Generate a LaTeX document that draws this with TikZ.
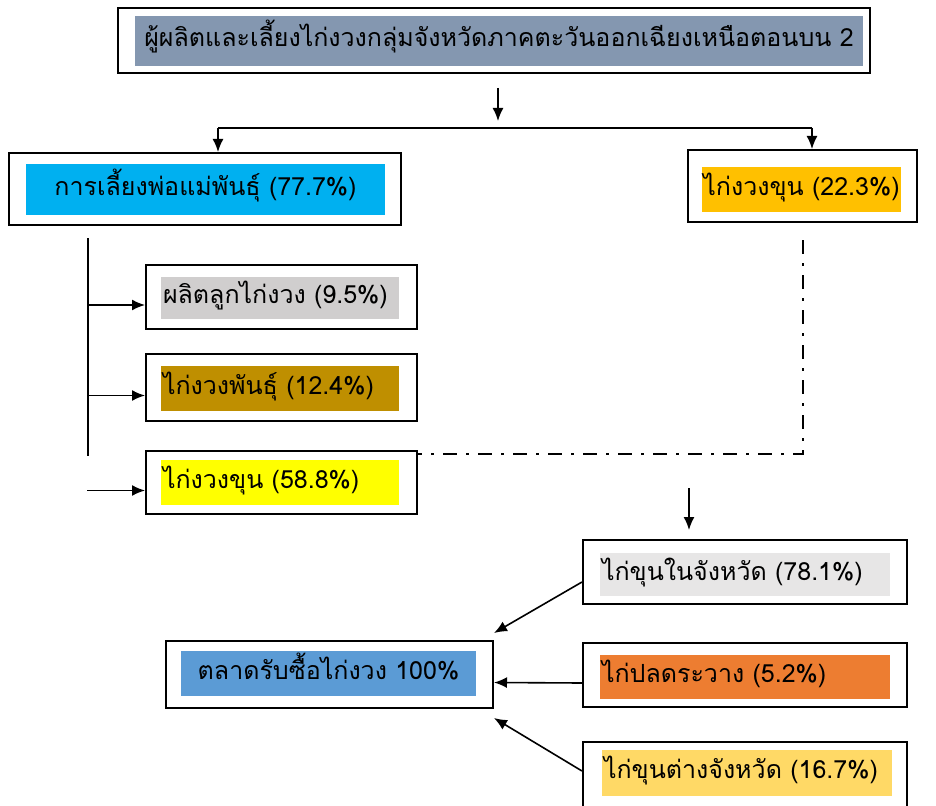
\documentclass[tikz,border=0pt]{standalone}
\usepackage{fontspec}
\newfontfamily\thaifont[Script=Thai]{Loma}
\usetikzlibrary{arrows.meta,calc}
\definecolor{cTop}{HTML}{8497B0}
\definecolor{cBreed}{HTML}{00B0F0}
\definecolor{cFat}{HTML}{FFC000}
\definecolor{cChick}{HTML}{D0CECE}
\definecolor{cStock}{HTML}{BF8F00}
\definecolor{cGrow}{HTML}{FFFF00}
\definecolor{cIn}{HTML}{E7E6E6}
\definecolor{cCull}{HTML}{ED7D31}
\definecolor{cOut}{HTML}{FFD966}
\definecolor{cMarket}{HTML}{5B9BD5}

\begin{document}
\begin{tikzpicture}[x=1pt,y=-1pt,
  box/.style={draw,line width=2pt,inner sep=0pt},
  hl/.style={inner xsep=2pt,inner ysep=0pt,text height=17pt,text depth=6pt,font=\thaifont\fontsize{25}{30}\selectfont},
  arr/.style={line width=1.6pt,-{Latex[length=13pt,width=11pt]}}]
\useasboundingbox (0,0) rectangle (936,805);
\node[box,minimum width=752pt,minimum height=65pt] (top) at (494,40.5) {};
\node[box,minimum width=392pt,minimum height=72pt] (breed) at (205,189) {};
\node[box,minimum width=229pt,minimum height=72pt] (fat) at (802.5,186) {};
\foreach \n/\y/\h in {chick/297/64, stock/387.5/67, grow/482.5/63} { \node[box,minimum width=271pt,minimum height=\h pt] (\n) at (281.5,\y) {}; };
\foreach \n/\y/\h in {inprov/572/64, cull/675/64, outprov/778/72} { \node[box,minimum width=324pt,minimum height=\h pt] (\n) at (745,\y) {}; };
\node[box,minimum width=327pt,minimum height=67pt] (market) at (329.5,674.5) {};
\node[hl,fill=cTop,text width=724pt,align=center,minimum height=50pt] (topL) at (499,41) {ผู้ผลิตและเลี้ยงไก่งวงกลุ่มจังหวัดภาคตะวันออกเฉียงเหนือตอนบน 2};
\node[hl,fill=cBreed,text width=355pt,align=center,minimum height=51pt] (breedL) at (205.5,189.5) {การเลี้ยงพ่อแม่พันธุ์ (77.7\%)};
\node[hl,fill=cFat,inner xsep=0pt,minimum width=199pt,minimum height=45pt] (fatL) at (801.5,189.5) {ไก่งวงขุน (22.3\%)};
\foreach \n/\y/\h/\c/\t in {chick/298/42/cChick/{ผลิตลูกไก่งวง (9.5\%)}, stock/388.5/45/cStock/{ไก่งวงพันธุ์ (12.4\%)}, grow/482.5/45/cGrow/{ไก่งวงขุน (58.8\%)}} { \node[hl,fill=\c,text width=234pt,align=left,minimum height=\h pt] (\n L) at (280,\y) {\t}; };
\foreach \n/\x/\y/\h/\c/\t in {inprov/745/574.5/43/cIn/{ไก่ขุนในจังหวัด (78.1\%)}, cull/745/677/44/cCull/{ไก่ปลดระวาง (5.2\%)}, outprov/747/773/46/cOut/{ไก่ขุนต่างจังหวัด (16.7\%)}} { \node[hl,fill=\c,text width=286pt,align=left,minimum height=\h pt] (\n L) at (\x,\y) {\t}; };
\node[hl,fill=cMarket,text width=291pt,align=center,minimum height=45pt] (marketL) at (328.5,673.5) {ตลาดรับซื้อไก่งวง 100\%};
\coordinate (t0) at (498,88); \coordinate (t1) at (498,121);
\draw[arr] (t0) -- (t1);
\coordinate (jl) at (218,128); \coordinate (jr) at (812,128);
\draw[line width=1.6pt] (jl) -- (jr);
\draw[arr] (jl) -- (jl |- breed.north); \draw[arr] (jr) -- (jr |- fat.north);
\coordinate (s0) at (88,238); \coordinate (s1) at (88,456);
\draw[line width=1.6pt] (s0) -- (s1);
\foreach \n in {chick,stock,grow} { \draw[arr] ($(\n.west)+(-58,8)$) -- ($(\n.west)+(0,8)$); };
\draw[line width=2pt,dash pattern=on 14pt off 9pt on 3pt off 9pt] ($(fat.south)+(0,17)$) |- ($(grow.north east)+(0,4)$);
\coordinate (d0) at (689,488);
\draw[arr] (d0) -- ($(d0 |- inprov.north)+(0,-9)$);
\draw[arr] ($(inprov.west)+(0,10)$) -- ($(market.north east)+(0,-7)$);
\draw[arr] ($(cull.west)+(0,8)$) -- ($(market.east)+(0,8)$);
\draw[arr] ($(outprov.west)+(0,-7)$) -- ($(market.south east)+(0,9)$);
\end{tikzpicture}
\end{document}
